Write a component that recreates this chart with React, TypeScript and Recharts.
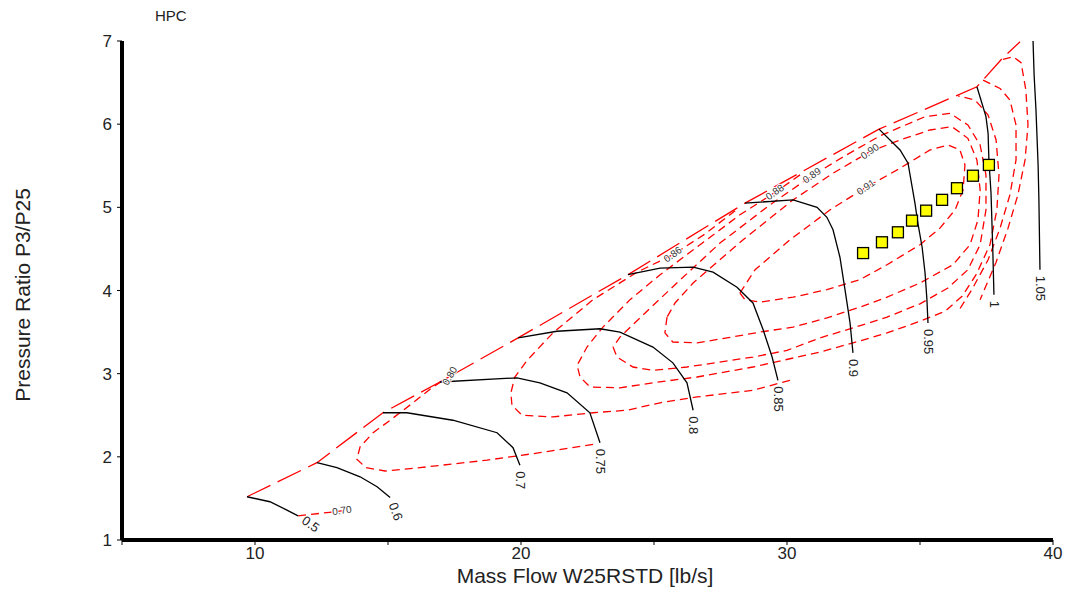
import { Scatter, ScatterChart, XAxis, YAxis } from "recharts";

type Pt = [number, number];

const FONT = "Arial, 'Liberation Sans', sans-serif";

// axis ticks
const xTicks = [5, 10, 15, 20, 25, 30, 35, 40];
const yTicks = [1, 2, 3, 4, 5, 6, 7];

// corrected speed lines (mass flow, pressure ratio)
const speedNames = ["0.5", "0.6", "0.7", "0.75", "0.8", "0.85", "0.9", "0.95", "1", "1.05"];
const speed050: Pt[] = [[9.7, 1.52], [10.56, 1.46], [11.2, 1.36], [11.62, 1.29]];
const speed060: Pt[] = [[12.33, 1.93], [13.08, 1.87], [13.95, 1.76], [14.59, 1.64], [15.08, 1.51]];
const speed070: Pt[] = [[14.81, 2.53], [15.71, 2.53], [17.44, 2.44], [19.1, 2.29], [19.7, 2.11], [19.96, 1.9]];
const speed075: Pt[] = [[16.95, 2.9], [19.85, 2.95], [20.71, 2.89], [21.73, 2.77], [22.59, 2.53], [22.97, 2.17]];
const speed080: Pt[] = [[19.89, 3.43], [21.35, 3.51], [22.97, 3.54], [23.72, 3.5], [24.96, 3.32], [25.71, 3.13], [26.24, 2.89], [26.47, 2.56]];
const speed085: Pt[] = [[24.02, 4.19], [25.23, 4.27], [26.47, 4.28], [27.22, 4.22], [28.12, 4.04], [28.72, 3.85], [29.1, 3.53], [29.44, 3.2], [29.66, 2.92]];
const speed090: Pt[] = [[28.42, 5.05], [30.23, 5.09], [31.13, 5.0], [31.5, 4.88], [31.73, 4.73], [31.99, 4.4], [32.18, 4.01], [32.37, 3.61], [32.48, 3.25]];
const speed095: Pt[] = [[33.46, 5.94], [34.25, 5.69], [34.55, 5.53], [34.81, 5.05], [34.92, 4.81], [35.08, 4.52], [35.19, 4.21], [35.26, 3.89], [35.3, 3.61]];
const speed100: Pt[] = [[37.14, 6.45], [37.48, 6.09], [37.56, 5.89], [37.59, 5.57], [37.67, 5.17], [37.74, 4.45], [37.78, 3.95]];
const speed105: Pt[] = [[39.25, 7.0], [39.29, 6.59], [39.36, 6.17], [39.44, 5.51], [39.47, 5.09], [39.51, 4.25]];
const speedLines = [speed050, speed060, speed070, speed075, speed080, speed085, speed090, speed095, speed100, speed105];
const speedLabelAngles = [35, 70, 90, 90, 90, 90, 90, 90, 90, 90];

// surge line
const surgeLine: Pt[] = [
  [9.7, 1.52], [12.33, 1.93], [14.81, 2.53], [16.95, 2.9], [19.89, 3.43], [24.02, 4.19],
  [28.42, 5.05], [33.46, 5.94], [37.14, 6.45], [38.12, 6.8], [38.76, 6.99],
];

// efficiency contours (clipped to the map)
const eff070: Pt[] = [[11.62, 1.29], [12.44, 1.32], [13.27, 1.35]];
const eff080a: Pt[] = [
  [22.71, 2.15], [20.71, 2.05], [18.72, 1.96], [16.2, 1.87], [14.89, 1.83], [14.17, 1.87], [13.83, 1.97],
  [13.95, 2.12], [14.44, 2.29], [15.08, 2.44], [15.94, 2.65], [16.69, 2.84], [17.33, 2.97],
];
const eff080b: Pt[] = [
  [38.12, 6.78], [38.5, 6.81], [38.8, 6.74], [38.98, 6.41], [39.06, 5.99], [38.95, 5.57],
  [38.68, 5.15], [38.31, 4.75], [37.86, 4.34], [37.26, 3.89],
];
const eff086a: Pt[] = [
  [30.11, 2.92], [28.72, 2.8], [26.62, 2.72], [25.23, 2.65], [23.98, 2.56], [22.71, 2.53], [21.2, 2.48],
  [20.04, 2.5], [19.66, 2.62], [19.62, 2.77], [19.77, 2.96], [20.23, 3.16], [21.2, 3.49], [22.71, 3.89],
  [24.36, 4.22], [25.71, 4.43], [26.92, 4.68], [28.05, 4.96],
];
const eff086b: Pt[] = [
  [37.37, 6.53], [38.01, 6.43], [38.38, 6.29], [38.61, 5.99], [38.61, 5.57], [38.38, 5.15],
  [38.01, 4.75], [37.56, 4.37], [36.95, 4.01], [36.5, 3.78],
];
const eff088: Pt[] = [
  [30.49, 5.39], [29.55, 5.18], [28.23, 4.91], [26.73, 4.55], [25.23, 4.19], [24.1, 3.89], [23.08, 3.56],
  [22.48, 3.32], [22.11, 3.1], [22.22, 2.96], [22.59, 2.84], [23.72, 2.83], [24.96, 2.89], [26.62, 2.96],
  [28.72, 3.08], [31.24, 3.26], [32.48, 3.37], [33.76, 3.49], [35.0, 3.63], [35.94, 3.75], [36.58, 3.93],
  [37.11, 4.19], [37.63, 4.55], [37.89, 4.97], [37.97, 5.39], [37.86, 5.81], [37.56, 6.11], [37.07, 6.29],
  [36.43, 6.34],
];
const eff089: Pt[] = [
  [23.46, 3.32], [23.61, 3.2], [24.21, 3.08], [24.96, 3.04], [26.24, 3.08], [28.72, 3.2], [30.0, 3.28],
  [31.24, 3.43], [32.48, 3.55], [33.76, 3.68], [35.0, 3.84], [36.05, 4.03], [36.8, 4.25], [37.26, 4.55],
  [37.48, 4.97], [37.48, 5.39], [37.26, 5.75], [36.8, 5.99], [36.13, 6.13], [35.19, 6.09], [33.5, 5.86],
  [32.18, 5.62], [30.94, 5.38], [29.36, 5.03], [27.48, 4.57], [25.79, 4.07], [24.47, 3.67], [23.72, 3.44],
  [23.46, 3.32],
];
const eff090: Pt[] = [
  [25.49, 3.68], [25.41, 3.49], [25.71, 3.38], [26.62, 3.37], [27.74, 3.43], [28.98, 3.5], [30.23, 3.56],
  [31.5, 3.67], [32.74, 3.8], [33.76, 3.92], [35.0, 4.09], [36.24, 4.31], [36.88, 4.55], [37.18, 4.85],
  [37.26, 5.21], [37.14, 5.57], [36.8, 5.83], [36.2, 5.97], [35.38, 5.93], [34.25, 5.81], [33.12, 5.67],
  [31.73, 5.41], [30.23, 5.09], [28.35, 4.61], [27.37, 4.34], [26.47, 4.09], [25.79, 3.85], [25.49, 3.68],
];
const eff091: Pt[] = [
  [28.23, 3.97], [28.8, 4.25], [30.11, 4.61], [31.62, 4.97], [32.97, 5.24], [34.25, 5.47], [35.38, 5.69],
  [36.05, 5.75], [36.5, 5.69], [36.69, 5.51], [36.62, 5.21], [36.32, 4.97], [35.75, 4.75], [35.0, 4.55],
  [33.76, 4.31], [32.74, 4.13], [31.5, 4.01], [30.23, 3.92], [28.98, 3.86], [28.42, 3.89], [28.23, 3.97],
];
const effLines = [eff070, eff080a, eff080b, eff086a, eff086b, eff088, eff089, eff090, eff091];

// which contour point carries each efficiency label
const effLabelText = ["0.70", "0.80", "0.86", "0.88", "0.89", "0.90", "0.91"];
const effLabelLine = [eff070, eff080a, eff086a, eff088, eff089, eff090, eff091];
const effLabelIndex = [2, 12, 15, 1, 22, 20, 4];
const effLabelAngle = [-8, -60, -35, -35, -35, -35, -35];

// operating line points
const opFlow = [32.86, 33.57, 34.17, 34.7, 35.23, 35.83, 36.39, 36.99, 37.59];
const opPR = [4.45, 4.58, 4.7, 4.84, 4.96, 5.09, 5.23, 5.38, 5.51];

const toPts = (line: Pt[]) => line.map(([x, y]) => ({ x, y }));

const opPoints = opFlow.map((x, i) => ({ x, y: opPR[i] }));

const speedLabels = speedLines.map((line, i) => {
  const [x, y] = line[line.length - 1];
  return { x, y, text: speedNames[i], angle: speedLabelAngles[i] };
});

const effLabels = effLabelText.map((text, i) => {
  const [x, y] = effLabelLine[i][effLabelIndex[i]];
  return { x, y, text, angle: effLabelAngle[i] };
});

const NoDot = () => <g />;

const YellowSquare = (props: any) => {
  const { cx, cy } = props;
  return (
    <rect x={cx - 5.5} y={cy - 5.5} width={11} height={11} fill="#ffff00" stroke="#000" strokeWidth={1.3} />
  );
};

const SpeedLabel = (props: any) => {
  const { cx, cy } = props;
  const p = props.payload ?? props;
  return (
    <text
      transform={`translate(${cx},${cy}) rotate(${p.angle})`}
      x={6}
      y={4}
      fontSize={13}
      fill="#222"
      textAnchor="start"
    >
      {p.text}
    </text>
  );
};

const EffLabel = (props: any) => {
  const { cx, cy } = props;
  const p = props.payload ?? props;
  return (
    <text
      transform={`translate(${cx},${cy}) rotate(${p.angle})`}
      x={0}
      y={3}
      fontSize={10}
      fill="#333"
      stroke="#fff"
      strokeWidth={2}
      paintOrder="stroke"
      textAnchor="middle"
    >
      {p.text}
    </text>
  );
};

export default function App() {
  return (
    <ScatterChart
      width={1055}
      height={582}
      margin={{ top: 33, right: 10, bottom: 0, left: 0 }}
      style={{ fontFamily: FONT }}
    >
      <XAxis
        type="number"
        dataKey="x"
        domain={[5, 40]}
        ticks={xTicks}
        tickFormatter={(v) => (v % 10 === 0 ? String(v) : "")}
        allowDataOverflow
        height={50}
        axisLine={{ stroke: "#000", strokeWidth: 4 }}
        tickLine={{ stroke: "#000" }}
        tickSize={5}
        tick={{ fill: "#222", fontSize: 17 }}
      />
      <YAxis
        type="number"
        dataKey="y"
        domain={[1, 7]}
        ticks={yTicks}
        allowDataOverflow
        width={114}
        axisLine={{ stroke: "#000", strokeWidth: 4 }}
        tickLine={{ stroke: "#000" }}
        tickSize={5}
        tickMargin={5}
        tick={{ fill: "#222", fontSize: 17 }}
      />

      {effLines.map((line, i) => (
        <Scatter
          key={`eff${i}`}
          data={toPts(line)}
          line={{ stroke: "#ff0000", strokeWidth: 1.3, strokeDasharray: "8 5" }}
          shape={NoDot}
          isAnimationActive={false}
        />
      ))}
      <Scatter
        data={toPts(surgeLine)}
        line={{ stroke: "#ff0000", strokeWidth: 1.3, strokeDasharray: "26 8" }}
        shape={NoDot}
        isAnimationActive={false}
      />
      {speedLines.map((line, i) => (
        <Scatter
          key={`spd${i}`}
          data={toPts(line)}
          line={{ stroke: "#000", strokeWidth: 1.3 }}
          shape={NoDot}
          isAnimationActive={false}
        />
      ))}
      <Scatter data={opPoints} shape={YellowSquare} isAnimationActive={false} />
      <Scatter data={speedLabels} shape={SpeedLabel} isAnimationActive={false} />
      <Scatter data={effLabels} shape={EffLabel} isAnimationActive={false} />

      <text x={147} y={13} fontSize={15} fill="#222">HPC</text>
      <text x={577} y={575} fontSize={21} fill="#222" textAnchor="middle">
        Mass Flow W25RSTD [lb/s]
      </text>
      <text
        transform="translate(22,287) rotate(-90)"
        fontSize={21}
        fill="#222"
        textAnchor="middle"
      >
        Pressure Ratio P3/P25
      </text>
    </ScatterChart>
  );
}
